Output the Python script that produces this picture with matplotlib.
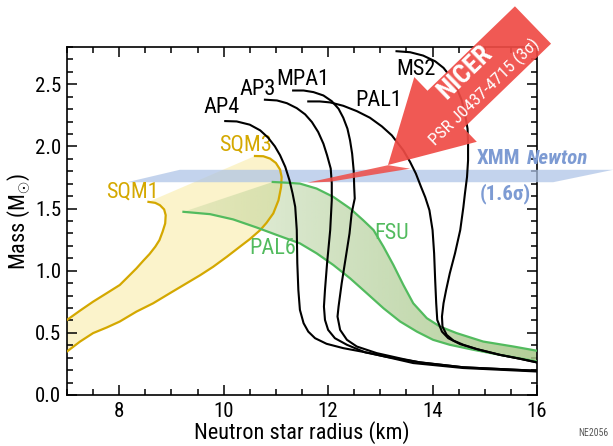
import numpy as np
import matplotlib
matplotlib.use("Agg")
import matplotlib.pyplot as plt
from matplotlib.patches import Polygon
from matplotlib.ticker import MultipleLocator
from matplotlib import font_manager


# pick a narrow font if one is around
names = {f.name for f in font_manager.fontManager.ttflist}
FONT = "Liberation Sans"
for cand in ["Liberation Sans Narrow", "Roboto Condensed", "Open Sans Condensed",
             "Noto Sans Condensed", "DejaVu Sans Condensed"]:
    if cand in names:
        FONT = cand
        break
plt.rcParams["font.family"] = [FONT, "DejaVu Sans"]
plt.rcParams["mathtext.fontset"] = "custom"
plt.rcParams["mathtext.rm"] = FONT

# mass-radius curves (radius km, mass Msun)
ap4_r = [10.03, 10.25, 10.50, 10.70, 10.85, 10.98, 11.08, 11.18, 11.26, 11.32, 11.37, 11.40, 11.41,
         11.43, 11.46, 11.53, 11.62, 11.75, 11.97, 12.29, 12.80, 13.63, 14.59, 16.0]
ap4_m = [2.204, 2.201, 2.175, 2.129, 2.071, 2.001, 1.929, 1.835, 1.728, 1.621, 1.514, 1.327, 1.062,
         0.845, 0.685, 0.578, 0.510, 0.457, 0.412, 0.377, 0.337, 0.257, 0.217, 0.189]

ap3_r = [10.79, 11.02, 11.21, 11.40, 11.56, 11.69, 11.81, 11.91, 11.98, 12.05, 12.07, 12.07, 12.04,
         11.98, 11.94, 11.92, 11.94, 12.00, 12.13, 12.36, 12.71, 13.12, 13.76, 14.59, 16.0]
ap3_m = [2.376, 2.370, 2.348, 2.308, 2.258, 2.196, 2.116, 2.022, 1.929, 1.822, 1.704, 1.567, 1.327,
         1.059, 0.845, 0.711, 0.604, 0.524, 0.457, 0.404, 0.343, 0.307, 0.263, 0.223, 0.195]

mpa1_r = [11.33, 11.53, 11.72, 11.91, 12.07, 12.20, 12.29, 12.37, 12.42, 12.46, 12.49, 12.50, 12.51,
          12.45, 12.41, 12.34, 12.26, 12.20, 12.18, 12.23, 12.36, 12.55, 12.93, 13.44, 13.76, 14.59, 16.0]
mpa1_m = [2.450, 2.450, 2.437, 2.410, 2.364, 2.303, 2.231, 2.143, 2.049, 1.942, 1.805, 1.674, 1.581,
          1.461, 1.300, 1.112, 0.899, 0.711, 0.631, 0.524, 0.444, 0.390, 0.337, 0.289, 0.262, 0.223, 0.195]

pal1_r = [11.62, 11.84, 12.04, 12.29, 12.55, 12.80, 13.03, 13.22, 13.44, 13.57, 13.68, 13.78, 13.86,
          13.94, 14.00, 14.03, 14.05, 14.07, 14.09, 14.18, 14.30, 14.53, 14.85, 15.29, 15.68, 16.0]
pal1_m = [2.362, 2.362, 2.354, 2.327, 2.284, 2.231, 2.161, 2.089, 1.969, 1.875, 1.782, 1.674, 1.591,
          1.487, 1.327, 1.140, 0.925, 0.738, 0.604, 0.510, 0.457, 0.409, 0.369, 0.323, 0.291, 0.262]

ms2_r = [13.31, 13.57, 13.82, 14.05, 14.21, 14.35, 14.46, 14.56, 14.62, 14.67, 14.68, 14.68, 14.66,
         14.62, 14.59, 14.53, 14.43, 14.33, 14.26, 14.21, 14.18, 14.19, 14.27, 14.40, 14.59, 14.85,
         15.29, 15.68, 16.0]
ms2_m = [2.766, 2.758, 2.731, 2.685, 2.632, 2.557, 2.472, 2.370, 2.263, 2.143, 2.022, 1.888, 1.754,
         1.621, 1.511, 1.327, 1.140, 0.979, 0.845, 0.738, 0.631, 0.551, 0.484, 0.438, 0.404, 0.369,
         0.323, 0.291, 0.262]

fsu_r = [10.94, 11.21, 11.46, 11.78, 12.10, 12.42, 12.67, 12.87, 13.06, 13.25, 13.44, 13.63, 13.89,
         14.14, 14.46, 14.97, 15.55, 16.0]
fsu_m = [1.714, 1.708, 1.701, 1.661, 1.594, 1.501, 1.407, 1.327, 1.193, 1.046, 0.886, 0.738, 0.618,
         0.551, 0.498, 0.430, 0.390, 0.356]

pal6_r = [9.23, 9.74, 10.18, 10.63, 11.02, 11.46, 11.78, 12.10, 12.42, 12.74, 13.06, 13.38, 13.70,
          14.01, 14.33, 14.78, 15.29, 16.0]
pal6_m = [1.474, 1.455, 1.413, 1.348, 1.287, 1.220, 1.140, 1.046, 0.939, 0.819, 0.698, 0.591, 0.510,
          0.444, 0.404, 0.364, 0.323, 0.270]

sqm1_r = [8.56, 8.69, 8.78, 8.86, 8.89, 8.88, 8.83, 8.77, 8.69, 8.58, 8.46, 8.33, 8.14, 8.01,
          7.76, 7.50, 7.25, 7.0]
sqm1_m = [1.554, 1.546, 1.527, 1.493, 1.447, 1.380, 1.313, 1.246, 1.193, 1.134, 1.080, 1.019, 0.939,
          0.885, 0.819, 0.751, 0.679, 0.604]

sqm3_r = [10.60, 10.76, 10.89, 11.00, 11.08, 11.11, 11.10, 11.05, 10.95, 10.82, 10.70, 10.50, 10.31,
          10.06, 9.80, 9.55, 9.29, 8.97, 8.65, 8.33, 8.01, 7.76, 7.50, 7.25, 7.0]
sqm3_m = [1.923, 1.921, 1.902, 1.867, 1.814, 1.754, 1.674, 1.567, 1.461, 1.385, 1.327, 1.254, 1.193,
          1.112, 1.032, 0.964, 0.899, 0.819, 0.738, 0.671, 0.591, 0.543, 0.498, 0.430, 0.350]

# XMM Newton band (1.6 sigma) and its slanted ends
xmm_lo, xmm_hi = 1.712, 1.812
xmm_x_lo = [8.15, 16.31]
xmm_x_hi = [9.16, 17.46]

black_curves = [(ap4_r, ap4_m, "AP4", 9.97, 2.31), (ap3_r, ap3_m, "AP3", 10.66, 2.46),
                (mpa1_r, mpa1_m, "MPA1", 11.52, 2.54), (pal1_r, pal1_m, "PAL1", 12.96, 2.37),
                (ms2_r, ms2_m, "MS2", 13.69, 2.62)]

yellow = "#d4a800"
green = "#52bb5e"
blue_txt = "#7d9bd3"
red = "#ef4b45"

fig = plt.figure(figsize=(6.13, 4.46), dpi=100)
ax = fig.add_axes([67 / 613, 51 / 446, 470 / 613, 348 / 446])

# yellow strange quark matter band
sqm_poly = list(zip(sqm1_r, sqm1_m)) + list(zip(sqm3_r[::-1], sqm3_m[::-1]))
ax.add_patch(Polygon(sqm_poly, closed=True, facecolor="#fbf2c2", edgecolor="none", alpha=0.85, zorder=1))

# green band with horizontal gradient
green_poly = Polygon(list(zip(fsu_r, fsu_m)) + list(zip(pal6_r[::-1], pal6_m[::-1])),
                     closed=True, facecolor="none", edgecolor="none")
ax.add_patch(green_poly)
grad = np.zeros((2, 256, 4))
grad[..., :3] = matplotlib.colors.to_rgb("#a5c686")
grad[..., 3] = np.linspace(0.25, 0.85, 256)[None, :]
im = ax.imshow(grad, extent=[9.2, 16.0, 0.2, 1.75], aspect="auto", origin="lower", zorder=2)
im.set_clip_path(green_poly)

# XMM band
band = Polygon([(xmm_x_lo[0], xmm_lo), (xmm_x_lo[1], xmm_lo), (xmm_x_hi[1], xmm_hi), (xmm_x_hi[0], xmm_hi)],
               closed=True, facecolor="#adc3e6", edgecolor="none", alpha=0.72, zorder=3, clip_on=False)
ax.add_patch(band)

# red sliver of the NICER constraint on the band
ax.add_patch(Polygon([(11.60, 1.708), (13.15, 1.849), (13.57, 1.821), (12.04, 1.716)],
                     closed=True, facecolor=red, edgecolor="none", alpha=0.85, zorder=5))

ax.plot(sqm1_r, sqm1_m, color=yellow, lw=1.6, zorder=4)
ax.plot(sqm3_r, sqm3_m, color=yellow, lw=1.6, zorder=4)
ax.plot(fsu_r, fsu_m, color=green, lw=1.6, zorder=4)
ax.plot(pal6_r, pal6_m, color=green, lw=1.6, zorder=4)
for r, m, name, lx, ly in black_curves:
    ax.plot(r, m, color="black", lw=1.5, zorder=4)
    ax.text(lx, ly, name, fontsize=16, ha="center", va="center", zorder=6)

ax.text(8.26, 1.63, "SQM1", color=yellow, fontsize=16, ha="center", va="center")
ax.text(10.41, 2.01, "SQM3", color=yellow, fontsize=16, ha="center", va="center")
ax.text(10.93, 1.18, "PAL6", color=green, fontsize=16, ha="center", va="center")
ax.text(13.21, 1.30, "FSU", color=green, fontsize=16, ha="center", va="center")
ax.text(15.39, 1.62, "(1.6\u03c3)", color=blue_txt, fontsize=15, fontweight="bold",
        ha="center", va="center", clip_on=False)

ax.set_xlim(7, 16)
ax.set_ylim(0, 2.8)
ax.xaxis.set_major_locator(MultipleLocator(2))
ax.xaxis.set_minor_locator(MultipleLocator(0.5))
ax.yaxis.set_major_locator(MultipleLocator(0.5))
ax.yaxis.set_minor_locator(MultipleLocator(0.1))
ax.yaxis.set_major_formatter(matplotlib.ticker.FormatStrFormatter("%.1f"))
ax.tick_params(which="both", direction="in", top=True, right=True, width=1.1, labelsize=15)
ax.tick_params(which="major", length=7)
ax.tick_params(which="minor", length=4)
ax.tick_params(axis="y", pad=4)
ax.tick_params(axis="x", pad=5)
for s in ax.spines.values():
    s.set_linewidth(1.2)
ax.set_xlabel("Neutron star radius (km)", fontsize=16, labelpad=0)
ax.set_ylabel(r"Mass (M$_{\odot}$)", fontsize=16, labelpad=2)

# overlay in pixel units for the NICER arrow
ov = fig.add_axes([0, 0, 1, 1], zorder=10)
ov.set_xlim(0, 613)
ov.set_ylim(446, 0)
ov.axis("off")
ov.patch.set_alpha(0)

tip = np.array([388.0, 165.0])
tail = np.array([533.0, 25.0])
u = (tail - tip) / np.hypot(*(tail - tip))
n = np.array([-u[1], u[0]])
base = tip + 80 * u
arrow = [tip, base + 45 * n, base + 26 * n, tail + 26 * n, tail - 26 * n, base - 26 * n, base - 45 * n]
ov.add_patch(Polygon(arrow, closed=True, facecolor=red, edgecolor="none", alpha=0.92))
ang = np.degrees(np.arctan2(u[1] * -1, u[0]))
p1 = base + 40 * u - 13.5 * n
p2 = base + 40 * u + 14 * n
ov.text(p1[0], p1[1], "NICER", color="white", fontsize=19, fontweight="bold",
        rotation=ang, rotation_mode="anchor", ha="center", va="center")
ov.text(p2[0], p2[1], "PSR J0437-4715 (3\u03c3)", color="white", fontsize=12.5,
        rotation=ang, rotation_mode="anchor", ha="center", va="center")

ov.text(498, 159, "XMM", color=blue_txt, fontsize=15, fontweight="bold", ha="center", va="center")
ov.text(558, 159, "Newton", color=blue_txt, fontsize=15, fontweight="bold", style="italic",
        ha="center", va="center")
ov.text(593, 433, "NE2056", color="#555555", fontsize=7, ha="center", va="center")

fig.savefig("out.png", dpi=100)
